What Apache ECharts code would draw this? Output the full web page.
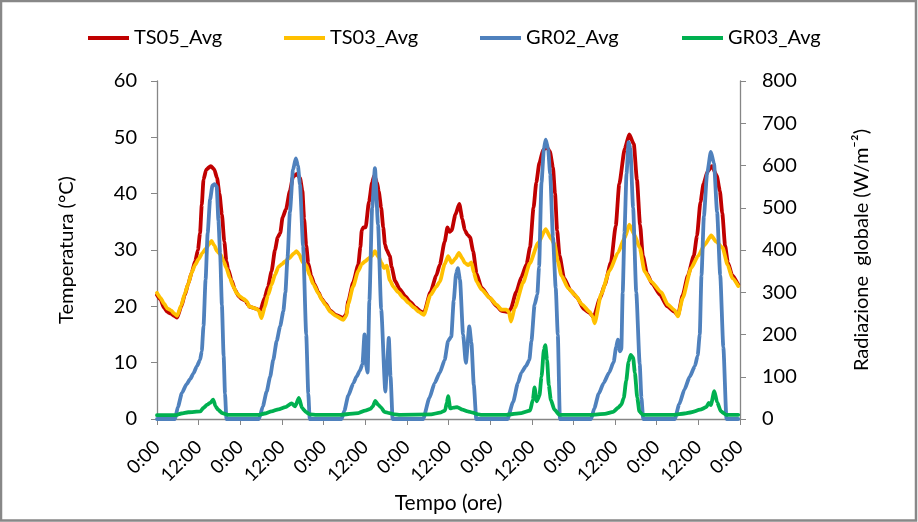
<!DOCTYPE html>
<html>
<head>
<meta charset="utf-8">
<script src="https://cdn.jsdelivr.net/npm/echarts@6/dist/echarts.min.js"></script>
<style>
html,body{margin:0;padding:0;background:#fff;}
#chart{width:918px;height:522px;}
</style>
</head>
<body>
<div id="chart"></div>
<script>
// Time in hours from the first 0:00, value pairs
const seriesNames = ['TS05_Avg', 'TS03_Avg', 'GR02_Avg', 'GR03_Avg'];
const xTickLabels = ['0:00', '12:00'];

const ts05 = [[0,22.0],[1,21.2],[2,19.8],[3,19.0],[4,18.7],[5,18.3],[5.8,18.0],[7,20.0],[8,22.0],[9,24.0],[10,26.0],[11,28.0],[11.8,30.0],[12.4,33.0],[12.9,38.0],[13.4,42.5],[14.2,44.3],[15.5,44.9],[16.5,44.3],[17.3,42.8],[18.0,40.0],[18.7,36.3],[19.4,31.5],[20.0,28.0],[20.5,26.6],[21.5,24.6],[22.5,22.9],[23.5,21.8],[24.5,21.3],[25.5,21.0],[26.2,20.3],[26.8,19.9],[28.5,19.6],[29.2,19.4],[29.8,19.3],
[31,21.5],[32,23.5],[33,26.2],[34,30.0],[34.8,32.3],[35.5,33.0],[36.2,35.8],[37.2,37.3],[38.3,40.5],[39.2,43.0],[40.3,43.5],[41.2,42.8],[41.9,40.5],[42.4,35.5],[43.0,30.8],[43.6,27.6],[44.4,25.5],[45.3,24.0],[46.5,22.5],[47.5,21.3],[48.5,20.5],[50,19.2],[51.5,18.5],[53.7,17.9],
[54.5,18.6],[55.1,20.9],[56.5,24.2],[58,27.4],[58.6,30.5],[59.0,33.5],[59.5,34.0],[60.1,34.0],[61.1,38.6],[62.0,42.0],[62.6,43.2],[63.4,42.0],[63.9,40.4],[64.6,37.5],[65.2,34.0],[65.7,31.0],[66.2,30.0],[67.1,28.9],[67.6,27.0],[68.6,24.5],[70,23.0],[71.5,21.8],[73,20.8],[74.5,19.8],[76,19.1],[76.9,18.8],
[78.8,22.5],[80.5,25.5],[81.5,27.4],[82.9,31.5],[83.7,34.0],[84.3,33.2],[84.9,33.5],[86,36.3],[87.1,38.2],[88,35.5],[88.7,33.5],[89.5,32.7],[90.2,32.3],[91.1,29.8],[92.1,25.8],[93.5,23.3],[95.9,21.5],[97.8,20.1],[99.3,19.2],[101.2,19.0],[101.9,19.5],
[103.5,22.5],[105,25.2],[106.5,27.5],[107.5,30.5],[108.5,37.5],[109.3,42.0],[110.2,45.5],[111.3,47.8],[112.3,48.3],[113.2,47.5],[114.1,44.7],[114.7,40.0],[115.3,33.5],[116.0,29.0],[117.3,25.0],[119.2,22.8],[121,21.6],[123,19.5],[124.7,18.8],[125.8,18.1],
[127.7,21.5],[129,23.8],[130.8,27.8],[132.2,34.3],[133.2,41.7],[134.8,48.0],[136.1,50.5],[137.4,48.8],[138.3,42.5],[139.2,34.5],[140.0,29.0],[141.2,25.8],[142.7,24.0],[145,22.0],[147,20.0],[149.2,19.0],[150.1,18.4],
[151.5,22.0],[153,25.5],[154.7,29.0],[155.6,32.5],[156.6,38.5],[157.5,41.8],[158.7,44.0],[159.9,44.9],[161.3,43.2],[162.2,40.5],[162.9,36.5],[163.7,30.8],[164.5,27.8],[165.7,25.6],[167.5,23.8]];

const ts03 = [[0,22.4],[1,21.5],[2,20.5],[3,19.6],[4,19.3],[5,18.7],[5.8,18.3],[7,20.2],[8,22.2],[9,24.0],[10,26.0],[11,27.4],[12,28.4],[13,29.4],[14,30.2],[15.0,31.0],[15.7,31.6],[16.5,30.8],[17.3,29.8],[18.3,29.2],[19.2,28.0],[20,26.8],[21,25.0],[22,23.5],[23,22.3],[24,21.7],[25,21.3],[26,20.8],[26.5,20.0],[28.5,19.6],[29.3,19.3],[30.1,17.9],
[31,19.8],[32,22.0],[33,23.8],[34,25.6],[35,27.0],[36,27.5],[37,28.0],[38,28.5],[39.5,29.4],[40.2,29.8],[41,29.2],[42,27.8],[43,27.3],[44,25.5],[45,24.0],[46.5,22.3],[47.5,21.2],[48.5,20.3],[50,19.0],[51.5,18.3],[53.7,17.6],
[54.5,18.3],[55.1,20.4],[56.5,23.5],[58,26.3],[59,27.5],[60,28.0],[61,28.5],[62,29.0],[62.8,29.8],[63.8,28.8],[64.8,27.6],[65.4,26.8],[66.2,27.2],[67.1,24.6],[68.2,23.4],[69.5,22.5],[71,21.5],[72.5,20.6],[74,19.8],[75.5,19.0],[76.9,18.5],
[78.8,22.0],[80.5,23.5],[81.5,24.4],[82.9,27.5],[83.9,28.9],[84.9,27.7],[86,28.5],[87.0,29.5],[88.0,28.5],[88.7,27.7],[89.7,27.3],[90.6,27.8],[91.3,26.0],[92.1,24.4],[93.5,23.0],[95.9,21.5],[97.8,20.3],[99.3,19.4],[100.7,19.4],[101.4,19.0],[102.0,17.3],
[103.1,19.7],[105.5,24.2],[107.4,27.6],[109.8,31.2],[112.0,33.7],[113.6,32.0],[114.6,31.0],[115.5,28.0],[116.5,25.5],[118.5,23.2],[120.5,22.0],[122.5,20.3],[124.7,19.0],[125.5,18.2],[126.1,17.0],
[128,22.2],[130.4,26.3],[132.8,29.5],[134.8,32.2],[136.1,34.5],[137.6,32.7],[139.1,30.4],[140.5,26.2],[142.4,24.4],[145.3,22.5],[147.2,20.3],[149.2,19.3],[150.1,18.2],
[151.5,21.5],[153.9,26.8],[155.9,28.9],[157.8,30.9],[159.7,32.6],[161.1,31.5],[163.0,30.4],[164.4,27.4],[165.8,25.0],[167.5,23.6]];

const gr02 = [[0,0],[5.2,0],[6,28],[7.2,62],[8.5,82],[9.6,95],[10.5,108],[11.5,125],[12.4,140],[12.9,160],[13.4,220],[14.0,330],[14.6,440],[15.3,520],[16.0,553],[16.6,556],[17.2,550],[17.7,470],[18.2,390],[18.7,270],[19.2,150],[19.6,60],[20.0,0],
[29.4,0],[30.5,30],[31.6,65],[32.6,100],[33.5,140],[34.5,185],[35.5,220],[36.4,255],[37.0,300],[37.6,380],[38.3,490],[39.2,590],[40.0,617],[40.6,600],[41.2,555],[42.1,410],[43.0,200],[43.6,60],[44.0,0],
[53.2,0],[54,20],[55.1,55],[56.6,85],[57.5,100],[58.5,115],[59.2,130],[59.8,200],[60.3,125],[60.7,110],[61.2,280],[62.0,500],[62.8,594],[63.7,460],[64.6,260],[65.8,65],[66.2,110],[66.8,192],[67.3,100],[67.9,0],
[76.7,0],[78.5,50],[80.0,85],[81.5,110],[82.9,140],[83.9,185],[84.8,195],[85.5,280],[86.2,345],[86.7,357],[87.3,330],[88.2,200],[89.0,133],[90.0,219],[90.6,180],[91.3,80],[92.0,0],
[101.0,0],[102.6,40],[104.0,85],[105.0,110],[106.3,125],[107.3,140],[107.9,185],[108.8,270],[109.6,295],[110.1,360],[110.8,560],[111.5,640],[112.0,661],[112.7,640],[113.3,580],[114.1,430],[114.9,310],[115.5,200],[116.1,0],
[125.1,0],[126,25],[127.3,60],[128.7,85],[130.3,110],[131.6,135],[132.3,170],[132.8,188],[133.4,160],[133.8,165],[134.2,300],[134.7,440],[135.3,580],[135.9,655],[136.4,640],[137.2,500],[138.1,300],[139.1,130],[139.6,50],[140.1,0],
[149.2,0],[150.5,35],[152.0,70],[153.5,100],[155.0,125],[155.8,150],[156.4,200],[156.9,340],[157.6,480],[158.5,580],[159.6,632],[160.5,605],[161.4,490],[162.3,340],[163.2,170],[164.1,0],[167.5,0]];

const gr03 = [[0,9],[5.5,9],[7,13],[9,16],[12.5,18],[13.3,26],[14.5,34],[15.3,38],[16.2,46],[16.9,30],[17.6,22],[18.8,14],[20.5,10],
[29.5,10],[31,13],[33,18],[35,23],[37,28],[38.8,37],[39.8,30],[40.9,50],[41.8,26],[43.0,16],[44,11],[46,10],
[53,10],[58,14],[60,20],[61.5,24],[62.2,30],[62.9,43],[63.7,34],[64.6,27],[65.5,17],[67,14],[68.5,11],[70,10],
[79,11],[81.5,15],[83.0,20],[83.5,38],[83.9,54],[84.5,25],[85.5,27],[86.5,28],[88,22],[89.5,18],[91,15],[92.5,11],[93.5,10],
[100.7,10],[105,14],[107.5,20],[108.3,45],[108.8,75],[109.4,42],[110.2,55],[110.8,100],[111.5,165],[111.9,175],[112.4,140],[112.9,80],[113.5,45],[114.5,22],[116,10],
[125,10],[129,12],[131.5,17],[132.8,26],[133.8,34],[134.5,50],[135.2,90],[135.9,136],[136.5,152],[137.2,145],[137.7,110],[138.4,50],[139,18],[140,10],
[149,10],[152,13],[154,16],[156.5,22],[158.3,28],[159,38],[159.6,33],[160.6,66],[161.4,40],[162.5,18],[164,10],[167.5,10]];

const colors = ['#C00000', '#FFC000', '#4F81BD', '#00B050'];
const legendLeft = [88, 284, 480, 682];
const FONT = 'Lato, "Open Sans", sans-serif';
const AX = '#868686';

const chart = echarts.init(document.getElementById('chart'), null, {renderer: 'canvas'});

const legends = seriesNames.map((n, i) => ({
  data: [n], left: legendLeft[i], top: 28, padding: 0,
  icon: 'rect', itemWidth: 41, itemHeight: 4,
  textStyle: {fontFamily: FONT, fontSize: 20, color: '#000'}
}));

const dataSets = [ts05, ts03, gr02, gr03];
const series = dataSets.map((d, i) => ({
  name: seriesNames[i], type: 'line', data: d,
  yAxisIndex: i < 2 ? 0 : 1,
  showSymbol: false, smooth: 0.2, smoothMonotone: 'x',
  lineStyle: {width: 3.8, color: colors[i], cap: 'round', join: 'round'},
  itemStyle: {color: colors[i]},
  animation: false
}));

chart.setOption({
  animation: false,
  backgroundColor: '#fff',
  color: colors,
  legend: legends,
  grid: {left: 157, right: 178, top: 81, bottom: 103, containLabel: false},
  xAxis: {
    type: 'value', min: 0, max: 168, interval: 12,
    name: 'Tempo (ore)', nameLocation: 'middle', nameGap: 68,
    nameTextStyle: {fontFamily: FONT, fontSize: 21, color: '#000'},
    axisLine: {lineStyle: {color: AX, width: 1.3}},
    axisTick: {show: true, inside: false, length: 6, lineStyle: {color: AX}},
    splitLine: {show: false},
    axisLabel: {
      rotate: 45, margin: 25, fontFamily: FONT, fontSize: 19, color: '#000',
      formatter: v => xTickLabels[(v % 24 === 0) ? 0 : 1]
    }
  },
  yAxis: [{
    type: 'value', min: 0, max: 60, interval: 10, position: 'left',
    name: 'Temperatura (°C)', nameLocation: 'middle', nameGap: 80, nameRotate: 90,
    nameTextStyle: {fontFamily: FONT, fontSize: 20, color: '#000'},
    axisLine: {show: true, lineStyle: {color: AX, width: 1.3}},
    axisTick: {show: true, inside: false, length: 6, lineStyle: {color: AX}},
    splitLine: {show: false},
    axisLabel: {margin: 20, fontFamily: FONT, fontSize: 20, color: '#000'}
  }, {
    type: 'value', min: 0, max: 800, interval: 100, position: 'right',
    name: 'Radiazione  globale (W/m\u207B\u00B2)', nameLocation: 'middle', nameGap: 112, nameRotate: 90,
    nameTextStyle: {fontFamily: FONT, fontSize: 20, color: '#000'},
    axisLine: {show: true, lineStyle: {color: AX, width: 1.3}},
    axisTick: {show: true, inside: false, length: 6, lineStyle: {color: AX}},
    splitLine: {show: false},
    axisLabel: {margin: 22, fontFamily: FONT, fontSize: 20, color: '#000'}
  }],
  graphic: [{
    type: 'rect', silent: true, z: 100,
    shape: {x: 1, y: 1, width: 915, height: 519.5},
    style: {fill: 'none', stroke: '#888', lineWidth: 2.5}
  }],
  series: series
});
</script>
</body>
</html>
